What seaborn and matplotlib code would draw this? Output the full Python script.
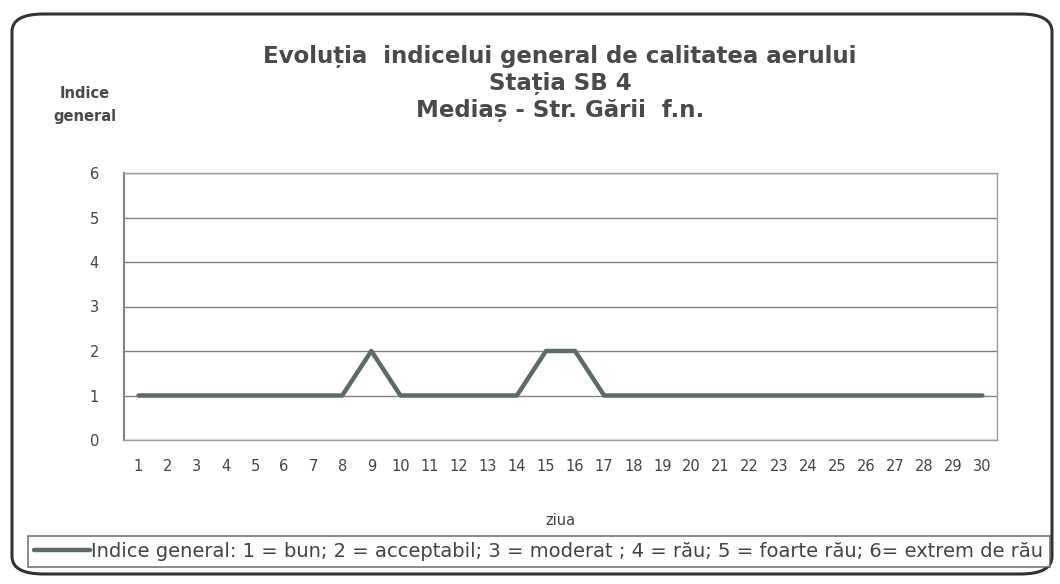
import matplotlib.pyplot as plt
import pandas as pd
import seaborn as sns
from matplotlib.patches import FancyBboxPatch

sns.set_theme(style="white")
plt.rcParams['font.family'] = ['DejaVu Sans']

# daily values of the general air quality index
days = list(range(1, 31))
index_values = [1, 1, 1, 1, 1, 1, 1, 1, 2, 1,
                1, 1, 1, 1, 2, 2, 1, 1, 1, 1,
                1, 1, 1, 1, 1, 1, 1, 1, 1, 1]
y_ticks = [0, 1, 2, 3, 4, 5, 6]

title_lines = ["Evoluția  indicelui general de calitatea aerului",
               "Stația SB 4",
               "Mediaș - Str. Gării  f.n."]
legend_label = ("Indice general: 1 = bun; 2 = acceptabil; 3 = moderat ; "
                "4 = rău; 5 = foarte rău; 6= extrem de rău")

df = pd.DataFrame({"ziua": days, "indice": index_values})

W, H = 1060, 584
fig = plt.figure(figsize=(W / 100, H / 100), dpi=100)
fig.patch.set_facecolor("white")

# rounded outer frame
frame = FancyBboxPatch((12 / W, 10 / H), 1040 / W, 560 / H,
                       boxstyle="round,pad=0,rounding_size=0.03",
                       transform=fig.transFigure, fill=False,
                       edgecolor="#333333", linewidth=2.2)
fig.patches.append(frame)

ax = fig.add_axes([124 / W, 1 - 440 / H, 873 / W, 267 / H])
sns.lineplot(data=df, x="ziua", y="indice", ax=ax, color="#5d6b68",
             linewidth=3.2, label=legend_label, legend=False)

ax.set_xlim(0.5, 30.5)
ax.set_ylim(0, 6)
ax.set_xticks(days)
ax.set_xticklabels([str(d) for d in days], fontsize=10.5, color="#444444")
ax.set_yticks(y_ticks)
ax.set_yticklabels([str(t) for t in y_ticks], fontsize=10.5, color="#444444")
ax.tick_params(axis="x", pad=14, length=0)
ax.tick_params(axis="y", pad=18, length=0)
ax.yaxis.grid(True, color="#7f8584", linewidth=1.0)
ax.xaxis.grid(False)
for side in ["top", "right", "bottom", "left"]:
    ax.spines[side].set_visible(True)
    ax.spines[side].set_color("#9aa09f")
    ax.spines[side].set_linewidth(1.0)
ax.spines["left"].set_color("#7d8584")
ax.spines["left"].set_linewidth(1.5)
ax.set_xlabel("ziua", fontsize=10.5, color="#444444", labelpad=28)
ax.set_ylabel("")

for i, line in enumerate(title_lines):
    fig.text(560 / W, 1 - (56 + 27 * i) / H, line, ha="center", va="center",
             fontsize=16.5, fontweight="bold", color="#4a4a4a")
fig.text(85 / W, 1 - 94 / H, "Indice", ha="center", va="center",
         fontsize=10.5, fontweight="bold", color="#4a4a4a")
fig.text(85 / W, 1 - 116 / H, "general", ha="center", va="center",
         fontsize=10.5, fontweight="bold", color="#4a4a4a")

handles, labels = ax.get_legend_handles_labels()
leg = fig.legend(handles, labels, loc="lower left",
                 bbox_to_anchor=(28 / W, 1 - 567 / H, 1022 / W, 37 / H),
                 mode="expand", frameon=True, fancybox=False, fontsize=14,
                 handlelength=2.9, handletextpad=0.05, borderpad=0.3,
                 borderaxespad=0, labelcolor="#444444")
leg.get_frame().set_edgecolor("#555555")
leg.get_frame().set_linewidth(1.2)

fig.savefig("out.png", dpi=100, facecolor="white")
